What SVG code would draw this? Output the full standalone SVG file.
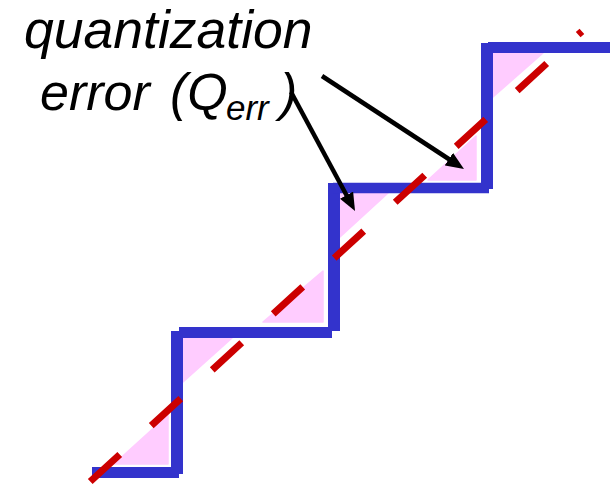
<svg xmlns="http://www.w3.org/2000/svg" width="610" height="485" viewBox="0 0 610 485">
  <defs>
    <style>
      .err { fill: #FFCCFF; stroke: #FFCCFF; stroke-width: 1.5; stroke-linejoin: round; }
      .stair { stroke: #3333CC; stroke-linecap: butt; fill: none; }
      .signal { stroke: #CC0000; stroke-width: 7; fill: none; stroke-dasharray: 40 42.7; }
      .arrow { stroke: #000000; stroke-width: 4.5; fill: none; marker-end: url(#head); }
      .label { font-family: "Liberation Sans", Arial, sans-serif; font-style: italic; fill: #000000; }
    </style>
    <marker id="head" viewBox="0 0 18 15" markerWidth="18" markerHeight="15" refX="8" refY="7.5" orient="auto" markerUnits="userSpaceOnUse">
      <path d="M0,0 L18,7.5 L0,15 z" fill="#000000"/>
    </marker>
  </defs>
  <rect x="0" y="0" width="610" height="485" fill="#FFFFFF"/>

  <g id="error-regions">
    <polygon class="err" points="114,464 168,464 168,415"/>
    <polygon class="err" points="183,338 232,338 183,382"/>
    <polygon class="err" points="263,322 323,322 323,271"/>
    <polygon class="err" points="340,193 388,193 340,237"/>
    <polygon class="err" points="428,180 476,180 476,136"/>
    <polygon class="err" points="493,53 543,53 493,97"/>
  </g>

  <g id="staircase">
    <line class="stair" x1="92" y1="472.5" x2="179" y2="472.5" stroke-width="11"/>
    <line class="stair" x1="177" y1="331" x2="177" y2="474" stroke-width="12"/>
    <line class="stair" x1="179" y1="332.5" x2="332" y2="332.5" stroke-width="11"/>
    <line class="stair" x1="334" y1="183" x2="334" y2="331" stroke-width="12"/>
    <line class="stair" x1="333" y1="188" x2="489" y2="188" stroke-width="10.5"/>
    <line class="stair" x1="487" y1="43" x2="487" y2="189" stroke-width="12"/>
    <line class="stair" x1="488" y1="47.5" x2="610" y2="47.5" stroke-width="11"/>
  </g>

  <g id="signal">
    <line class="signal" x1="90.25" y1="481.5" x2="581.9" y2="31.3"/>
  </g>

  <g id="label">
    <text class="label" x="24" y="48" font-size="53.5">quantization</text>
    <text class="label" x="40" y="110" font-size="52">error <tspan x="170">(Q</tspan><tspan x="226" font-size="35" dy="10">err</tspan><tspan x="280" dy="-10">)</tspan></text>
  </g>

  <g id="connectors">
    <line class="arrow" x1="291" y1="92" x2="350.3" y2="202.2"/>
    <line class="arrow" x1="322" y1="76" x2="455.6" y2="163.5"/>
  </g>
</svg>
